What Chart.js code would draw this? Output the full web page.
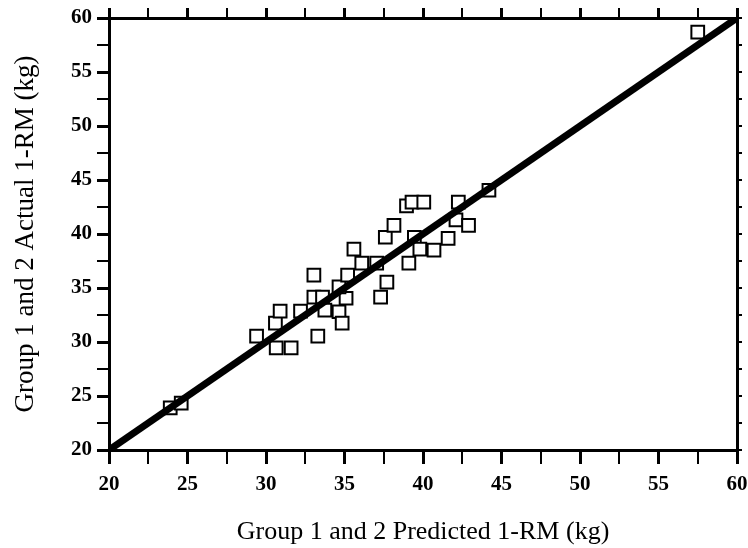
<!DOCTYPE html>
<html>
<head>
<meta charset="utf-8">
<script src="https://cdn.jsdelivr.net/npm/chart.js@4/dist/chart.umd.min.js"></script>
<style>
  html, body { margin: 0; padding: 0; background: #fff; overflow: hidden; }
  canvas { display: block; }
</style>
</head>
<body>
<canvas id="chart" width="748" height="548"></canvas>
<script>
// Predicted vs actual 1-RM (kg)
const predicted = [23.9, 24.6, 29.4, 30.6, 30.9, 30.65, 31.6, 32.2, 33.3, 33.05,
  33.05, 33.6, 33.75, 34.65, 34.85, 35.1, 34.65, 35.2, 35.6, 36.1,
  37.05, 37.3, 37.7, 37.6, 38.15, 39.1, 38.95, 39.3, 40.05, 39.45,
  39.8, 40.7, 41.6, 42.25, 42.1, 42.9, 44.2, 57.5];
const actual = [23.9, 24.35, 30.55, 31.75, 32.85, 29.45, 29.45, 32.85, 30.55, 36.2,
  34.15, 34.15, 32.95, 32.8, 31.75, 34.05, 35.1, 36.2, 38.6, 37.3,
  37.3, 34.15, 35.55, 39.7, 40.8, 37.3, 42.6, 42.95, 42.95, 39.7,
  38.6, 38.5, 39.6, 42.95, 41.3, 40.8, 44.05, 58.7];
const identityLine = [20, 60];

const serif = "'Liberation Serif', 'DejaVu Serif', serif";

const scatterPoints = predicted.map((p, i) => ({ x: p, y: actual[i] }));
const linePoints = identityLine.map(v => ({ x: v, y: v }));

const isMajor = v => Math.abs(v % 5) < 1e-6;

// no extra room for overhanging tick labels, the frame sits at fixed edges
function noPad(s) {
  s.paddingLeft = 0; s.paddingRight = 0; s.paddingTop = 0; s.paddingBottom = 0;
}

function frameAxis(position, extra) {
  return Object.assign({
    type: 'linear',
    position: position,
    min: 20,
    max: 60,
    border: { display: true, color: '#000', width: 3 },
    grid: {
      drawOnChartArea: false,
      drawTicks: true,
      tickLength: 10,
      tickColor: '#000',
      lineWidth: ctx => (ctx.tick && isMajor(ctx.tick.value)) ? 3 : 2
    },
    ticks: { stepSize: 2.5, display: false }
  }, extra);
}

new Chart(document.getElementById('chart'), {
  type: 'scatter',
  data: {
    datasets: [
      {
        type: 'line',
        data: linePoints,
        borderColor: '#000',
        borderWidth: 7,
        pointRadius: 0,
        fill: false,
        order: 0
      },
      {
        data: scatterPoints,
        pointStyle: 'rect',
        pointRadius: 9,
        pointBorderWidth: 2,
        pointBackgroundColor: '#fff',
        pointBorderColor: '#000',
        order: 1
      }
    ]
  },
  options: {
    responsive: false,
    animation: false,
    maintainAspectRatio: false,
    devicePixelRatio: 1,
    layout: { padding: 0 },
    plugins: { legend: { display: false }, tooltip: { enabled: false } },
    scales: {
      x: frameAxis('bottom', {
        grid: {
          drawOnChartArea: false,
          tickLength: 14,
          tickColor: '#000',
          lineWidth: ctx => (ctx.tick && isMajor(ctx.tick.value)) ? 3 : 2
        },
        ticks: {
          stepSize: 2.5,
          autoSkip: false,
          maxRotation: 0,
          color: '#000',
          padding: 8,
          font: { family: serif, size: 21, weight: 'bold' },
          callback: v => isMajor(v) ? v : ''
        },
        title: {
          display: true,
          text: 'Group 1 and 2 Predicted 1-RM (kg)',
          color: '#000',
          font: { family: serif, size: 26 },
          padding: { top: 2, bottom: 0 }
        },
        afterFit: s => { s.height = 98; noPad(s); }
      }),
      y: frameAxis('left', {
        grid: {
          drawOnChartArea: false,
          tickLength: 12,
          tickColor: '#000',
          lineWidth: ctx => (ctx.tick && isMajor(ctx.tick.value)) ? 3 : 2
        },
        ticks: {
          stepSize: 2.5,
          autoSkip: false,
          color: '#000',
          padding: 5,
          font: { family: serif, size: 21, weight: 'bold' },
          callback: v => isMajor(v) ? v : ''
        },
        title: {
          display: true,
          text: 'Group 1 and 2 Actual 1-RM (kg)',
          color: '#000',
          font: { family: serif, size: 27 },
          padding: { top: 10, bottom: 0 }
        },
        afterFit: s => { s.width = 109; noPad(s); }
      }),
      x2: frameAxis('top', { afterFit: s => { s.height = 18; noPad(s); } }),
      y2: frameAxis('right', {
        grid: {
          drawOnChartArea: false,
          tickLength: 5,
          tickColor: '#000',
          lineWidth: 2
        },
        afterFit: s => { s.width = 8; noPad(s); }
      })
    }
  }
});
</script>
</body>
</html>
